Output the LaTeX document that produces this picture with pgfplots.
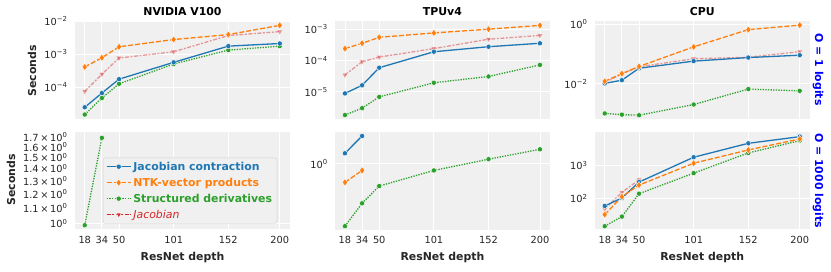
\documentclass[border=0pt]{standalone}
\usepackage{pgfplots}
\pgfplotsset{compat=1.18}
\usepackage{fontspec}
\setmainfont{DejaVu Sans}
\definecolor{c1}{HTML}{1F77B4}
\definecolor{c2}{HTML}{FF7F0E}
\definecolor{c3}{HTML}{2CA02C}
\definecolor{c4}{HTML}{D62728}
\definecolor{bgc}{HTML}{F0F0F0}
\definecolor{tk}{HTML}{262626}
\newcommand\tp[1]{10\textsuperscript{#1}}
\newcommand\lbl{\fontsize{10.9}{13}\selectfont\bfseries}
\pgfplotsset{
  myPanel/.style={scale only axis, width=214.5pt, height=97.8pt, xmin=8.9, xmax=209.1,
    axis background/.style={fill=bgc}, axis line style={draw=none}, tick style={draw=none},
    xmajorgrids, ymajorgrids, grid style={white, line width=0.9pt},
    xtick={18,34,50,101,152,200}, xticklabels={},
    tick label style={font=\fontsize{9.8}{11}\selectfont, text=tk},
    yticklabel style={xshift=-4pt}, xticklabel style={yshift=-3pt},
    anchor=south west, unbounded coords=jump},
  myBottom/.style={xticklabels={18,34,50,101,152,200}},
  serBlue/.style={color=c1, line width=1.3pt, solid, mark=*, mark size=2.6pt, mark options={solid, fill=c1, draw=white, line width=0.4pt}},
  serOrange/.style={color=c2, line width=1.3pt, dash pattern=on 5pt off 2pt, mark=diamond*, mark size=3.6pt, mark options={solid, fill=c2, draw=white, line width=0.4pt}},
  serGreen/.style={color=c3, line width=1.3pt, dash pattern=on 1.3pt off 1.3pt, mark=*, mark size=2.6pt, mark options={solid, fill=c3, draw=white, line width=0.4pt}},
  serRed/.style={color=c4, line width=1.3pt, dash pattern=on 3.9pt off 1.6pt on 1.9pt off 1.6pt, mark=triangle*, mark size=3.1pt, mark options={solid, rotate=180, fill=c4, draw=white, line width=0.4pt}},
  serRedP/.style={serRed, opacity=0.45},
}
\begin{document}
\begin{tikzpicture}
% ---------- top row: O = 1 logits ----------
\begin{semilogyaxis}[myPanel, at={(75pt,152.5pt)}, ymin=1.122e-5, ymax=1.0233e-2,
  ytick={1e-4,1e-3,1e-2}, yticklabels={\tp{−4},\tp{−3},\tp{−2}}]
\addplot[serRedP] coordinates {(18,7.413e-5)(34,2.455e-4)(50,7.586e-4)(101,1.175e-3)(152,3.631e-3)(200,4.786e-3)};
\addplot[serGreen] coordinates {(18,1.479e-5)(34,4.677e-5)(50,1.259e-4)(101,5.012e-4)(152,1.318e-3)(200,1.738e-3)};
\addplot[serBlue] coordinates {(18,2.455e-5)(34,6.607e-5)(50,1.738e-4)(101,5.623e-4)(152,1.738e-3)(200,2.089e-3)};
\addplot[serOrange] coordinates {(18,4.074e-4)(34,7.762e-4)(50,1.660e-3)(101,2.754e-3)(152,3.890e-3)(200,7.413e-3)};
\end{semilogyaxis}
\begin{semilogyaxis}[myPanel, at={(335.2pt,152.5pt)}, ymin=1.413e-6, ymax=1.862e-3,
  ytick={1e-5,1e-4,1e-3}, yticklabels={\tp{−5},\tp{−4},\tp{−3}}]
\addplot[serRedP] coordinates {(18,3.467e-5)(34,9.120e-5)(50,1.288e-4)(101,2.399e-4)(152,4.786e-4)(200,6.310e-4)};
\addplot[serGreen] coordinates {(18,1.820e-6)(34,3.020e-6)(50,6.918e-6)(101,1.950e-5)(152,3.090e-5)(200,7.244e-5)};
\addplot[serBlue] coordinates {(18,8.913e-6)(34,1.622e-5)(50,5.888e-5)(101,1.905e-4)(152,2.754e-4)(200,3.548e-4)};
\addplot[serOrange] coordinates {(18,2.399e-4)(34,3.548e-4)(50,5.495e-4)(101,7.586e-4)(152,1.0e-3)(200,1.318e-3)};
\end{semilogyaxis}
\begin{semilogyaxis}[myPanel, at={(595pt,152.5pt)}, ymin=6.761e-4, ymax=1.318,
  ytick={1e-2,1}, yticklabels={\tp{−2},\tp{0}}]
\addplot[serRedP] coordinates {(18,1.096e-2)(34,2.138e-2)(50,3.715e-2)(101,6.918e-2)(152,7.762e-2)(200,0.1202)};
\addplot[serGreen] coordinates {(18,1.0e-3)(34,9.120e-4)(50,8.710e-4)(101,1.995e-3)(152,6.607e-3)(200,5.754e-3)};
\addplot[serBlue] coordinates {(18,1.023e-2)(34,1.318e-2)(50,3.311e-2)(101,5.754e-2)(152,7.586e-2)(200,9.120e-2)};
\addplot[serOrange] coordinates {(18,1.202e-2)(34,2.188e-2)(50,3.802e-2)(101,0.1738)(152,0.6607)(200,0.9333)};
\end{semilogyaxis}
% ---------- bottom row: O = 1000 logits ----------
\begin{semilogyaxis}[myPanel, myBottom, at={(75pt,41.5pt)}, ymin=0.9645, ymax=1.755,
  ytick={1}, yticklabels={\tp{0}},
  extra y ticks={1.1,1.2,1.3,1.4,1.5,1.6,1.7},
  extra y tick labels={1.1\,×\,\tp{0},1.2\,×\,\tp{0},1.3\,×\,\tp{0},1.4\,×\,\tp{0},1.5\,×\,\tp{0},1.6\,×\,\tp{0},1.7\,×\,\tp{0}},
  extra y tick style={grid=none},
  legend image code/.code={\draw[mark repeat=2,mark phase=2,#1] plot coordinates {(0pt,0pt)(12pt,0pt)(24pt,0pt)};},
  legend style={at={(0.13,0.735)}, anchor=north west, fill=bgc, draw=black!18, rounded corners=2.5pt,
    font=\fontsize{10.9}{13}\selectfont, cells={anchor=west}, row sep=2.2pt, inner xsep=3pt, inner ysep=2pt}]
\addlegendimage{serBlue}
\addlegendentry{\textbf{\textcolor{c1}{Jacobian contraction}}}
\addlegendimage{serOrange}
\addlegendentry{\textbf{\textcolor{c2}{NTK-vector products}}}
\addplot[serGreen] coordinates {(18,0.99)(34,1.69)};
\addlegendentry{\textbf{\textcolor{c3}{Structured derivatives}}}
\addlegendimage{serRed}
\addlegendentry{\textit{\textcolor{c4}{Jacobian}}}
\end{semilogyaxis}
\begin{semilogyaxis}[myPanel, myBottom, at={(335.2pt,41.5pt)}, ymin=0.1496, ymax=2.535,
  ytick={1}, yticklabels={\tp{0}}]
\addplot[serGreen] coordinates {(18,0.1648)(34,0.3192)(50,0.5260)(101,0.8260)(152,1.143)(200,1.524)};
\addplot[serBlue] coordinates {(18,1.358)(34,2.239)};
\addplot[serOrange] coordinates {(18,0.5848)(34,0.8260)};
\end{semilogyaxis}
\begin{semilogyaxis}[myPanel, myBottom, at={(595pt,41.5pt)}, ymin=11.75, ymax=10471,
  ytick={100,1000}, yticklabels={\tp{2},\tp{3}}]
\addplot[serRedP] coordinates {(18,48.98)(34,154.9)(50,371.5)(101,nan)(200,8128)};
\addplot[serGreen] coordinates {(18,14.79)(34,28.84)(50,141.3)(101,588.8)(152,2399)(200,5623)};
\addplot[serBlue] coordinates {(18,60.26)(34,104.7)(50,316.2)(101,1778)(152,4677)(200,7413)};
\addplot[serOrange] coordinates {(18,33.11)(34,114.8)(50,257.0)(101,1175)(152,2951)(200,6310)};
\end{semilogyaxis}
% ---------- titles and labels ----------
\node[font=\lbl, text=black] at (182.5pt,259.3pt) {NVIDIA V100};
\node[font=\lbl, text=black] at (442.4pt,259.3pt) {TPUv4};
\node[font=\lbl, text=black] at (702.2pt,259.3pt) {CPU};
\node[font=\lbl, text=tk, rotate=90] at (32pt,200pt) {Seconds};
\node[font=\lbl, text=tk, rotate=90] at (11pt,91pt) {Seconds};
\node[font=\lbl, text=tk] at (182.5pt,13.3pt) {ResNet depth};
\node[font=\lbl, text=tk] at (442.4pt,13.3pt) {ResNet depth};
\node[font=\lbl, text=tk] at (702.2pt,13.3pt) {ResNet depth};
\node[font=\lbl, text=blue, rotate=-90] at (818pt,201.4pt) {O = 1 logits};
\node[font=\lbl, text=blue, rotate=-90] at (818pt,90.4pt) {O = 1000 logits};
\pgfresetboundingbox
\useasboundingbox (0,0) rectangle (831pt,271pt);
\end{tikzpicture}
\end{document}
